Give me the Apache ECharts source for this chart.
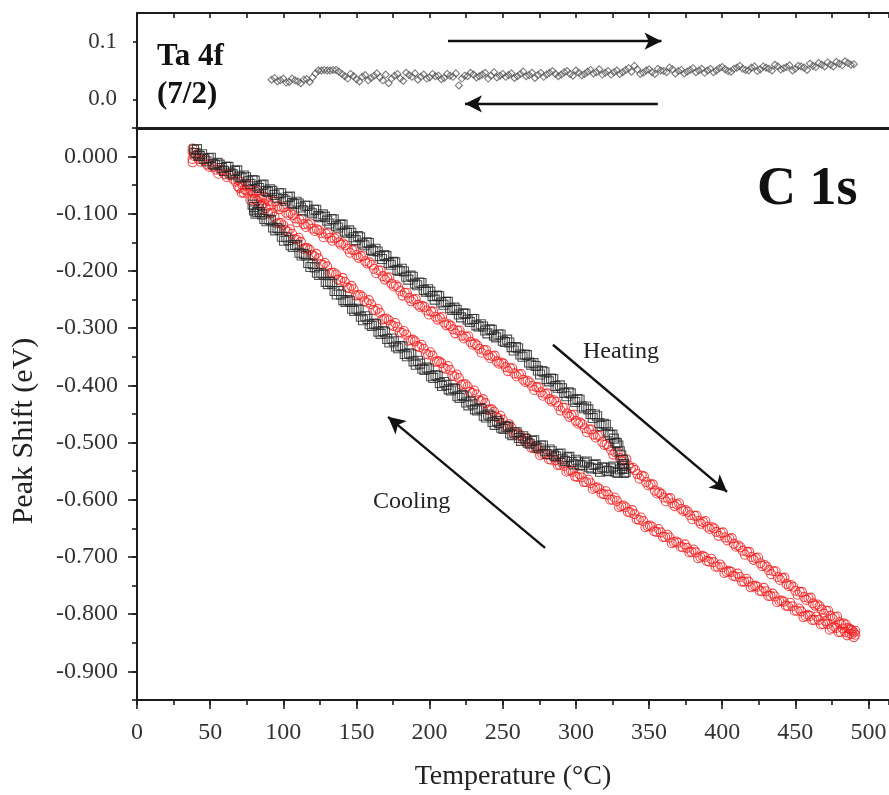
<!DOCTYPE html>
<html>
<head>
<meta charset="utf-8">
<script src="https://cdn.jsdelivr.net/npm/echarts@6/dist/echarts.min.js"></script>
<style>
html, body { margin: 0; padding: 0; background: #fff; }
#chart { width: 889px; height: 795px; }
</style>
</head>
<body>
<div id="chart"></div>
<script>
// ---- Ta 4f (7/2) reference peak, [temperature °C, shift eV] ----
const taShift = [
  [92,0.034],[94,0.037],[96,0.031],[98,0.033],[100,0.036],[102,0.029],[104,0.030],[106,0.036],[108,0.033],[110,0.031],
  [112,0.028],[114,0.034],[116,0.035],[118,0.030],[120,0.038],[122,0.045],[124,0.050],[126,0.050],[128,0.051],[130,0.050],
  [132,0.050],[134,0.051],[136,0.051],[138,0.048],[140,0.044],[142,0.040],[144,0.036],[146,0.044],[148,0.040],[150,0.035],
  [152,0.031],[154,0.039],[156,0.042],[158,0.033],[160,0.037],[162,0.041],[164,0.045],[166,0.038],[168,0.033],[170,0.043],
  [172,0.028],[174,0.036],[176,0.041],[178,0.044],[180,0.036],[182,0.032],[184,0.046],[186,0.042],[188,0.039],[190,0.045],
  [192,0.034],[194,0.039],[196,0.043],[198,0.036],[200,0.038],[202,0.044],[204,0.040],[206,0.041],[208,0.035],[210,0.037],
  [212,0.044],[214,0.041],[216,0.039],[218,0.045],[220,0.024],[222,0.036],[224,0.041],[226,0.040],[228,0.046],[230,0.043],
  [232,0.038],[234,0.040],[236,0.043],[238,0.046],[240,0.036],[242,0.041],[244,0.047],[246,0.038],[248,0.041],[250,0.044],
  [252,0.039],[254,0.042],[256,0.045],[258,0.037],[260,0.040],[262,0.044],[264,0.048],[266,0.040],[268,0.042],[270,0.046],
  [272,0.037],[274,0.042],[276,0.046],[278,0.039],[280,0.043],[282,0.046],[284,0.049],[286,0.044],[288,0.040],[290,0.043],
  [292,0.047],[294,0.049],[296,0.044],[298,0.041],[300,0.050],[302,0.046],[304,0.042],[306,0.044],[308,0.048],[310,0.051],
  [312,0.045],[314,0.047],[316,0.052],[318,0.043],[320,0.046],[322,0.049],[324,0.043],[326,0.047],[328,0.050],[330,0.044],
  [332,0.047],[334,0.051],[336,0.054],[338,0.048],[340,0.058],[342,0.052],[344,0.044],[346,0.046],[348,0.050],[350,0.052],
  [352,0.047],[354,0.044],[356,0.053],[358,0.050],[360,0.049],[362,0.047],[364,0.055],[366,0.052],[368,0.045],[370,0.049],
  [372,0.051],[374,0.045],[376,0.048],[378,0.051],[380,0.054],[382,0.047],[384,0.050],[386,0.053],[388,0.046],[390,0.050],
  [392,0.053],[394,0.047],[396,0.050],[398,0.054],[400,0.056],[402,0.052],[404,0.049],[406,0.048],[408,0.053],[410,0.055],
  [412,0.058],[414,0.053],[416,0.051],[418,0.050],[420,0.055],[422,0.057],[424,0.049],[426,0.052],[428,0.057],[430,0.055],
  [432,0.053],[434,0.050],[436,0.060],[438,0.057],[440,0.052],[442,0.054],[444,0.056],[446,0.059],[448,0.050],[450,0.053],
  [452,0.058],[454,0.057],[456,0.055],[458,0.051],[460,0.062],[462,0.058],[464,0.056],[466,0.063],[468,0.060],[470,0.057],
  [472,0.064],[474,0.060],[476,0.057],[478,0.065],[480,0.062],[482,0.059],[484,0.066],[486,0.063],[488,0.060],[490,0.061]
];

// ---- C 1s, cycle to ~330 °C (black squares) ----
const blackHeating = [
  [39,0.012],[40,0.006],[41,0.013],[42,0.002],[43,0.001],[44.5,0.004],[46,-0.004],[47.5,-0.008],[49,-0.003],[50.5,-0.002],
  [52,-0.013],[53.5,-0.015],[55,-0.011],[56.5,-0.014],[58,-0.020],[59.5,-0.025],[61,-0.018],[62.5,-0.018],[64,-0.028],
  [65.5,-0.031],[67,-0.025],[68.5,-0.024],[70,-0.035],[71.5,-0.037],[73,-0.033],[74.5,-0.036],[76,-0.043],[77.5,-0.048],
  [79,-0.041],[80.5,-0.042],[82,-0.052],[83.5,-0.055],[85,-0.050],[86.5,-0.049],[88,-0.060],[89.5,-0.062],[91,-0.057],
  [92.5,-0.060],[94,-0.067],[95.5,-0.072],[97,-0.064],[98.5,-0.064],[100,-0.074],[101.5,-0.077],[103,-0.071],[104.5,-0.070],
  [106,-0.081],[107.5,-0.083],[109,-0.079],[110.5,-0.082],[112,-0.089],[113.5,-0.094],[115,-0.086],[116.5,-0.086],
  [118,-0.096],[119.5,-0.099],[121,-0.093],[122.5,-0.093],[124,-0.104],[125.5,-0.106],[127,-0.101],[128.5,-0.105],
  [130,-0.112],[131.5,-0.117],[133,-0.109],[134.5,-0.110],[136,-0.121],[137.5,-0.124],[139,-0.119],[140.5,-0.119],
  [142,-0.131],[143.5,-0.133],[145,-0.129],[146.5,-0.133],[148,-0.141],[149.5,-0.146],[151,-0.139],[152.5,-0.141],
  [154,-0.152],[155.5,-0.155],[157,-0.150],[158.5,-0.151],[160,-0.163],[161.5,-0.165],[163,-0.161],[164.5,-0.166],
  [166,-0.174],[167.5,-0.179],[169,-0.172],[170.5,-0.174],[172,-0.186],[173.5,-0.189],[175,-0.184],[176.5,-0.185],
  [178,-0.198],[179.5,-0.200],[181,-0.196],[182.5,-0.201],[184,-0.210],[185.5,-0.215],[187,-0.208],[188.5,-0.210],
  [190,-0.222],[191.5,-0.225],[193,-0.220],[194.5,-0.221],[196,-0.233],[197.5,-0.236],[199,-0.232],[200.5,-0.236],
  [202,-0.244],[203.5,-0.250],[205,-0.243],[206.5,-0.244],[208,-0.255],[209.5,-0.259],[211,-0.254],[212.5,-0.254],
  [214,-0.265],[215.5,-0.268],[217,-0.264],[218.5,-0.268],[220,-0.276],[221.5,-0.281],[223,-0.274],[224.5,-0.275],
  [226,-0.285],[227.5,-0.289],[229,-0.284],[230.5,-0.284],[232,-0.295],[233.5,-0.297],[235,-0.293],[236.5,-0.297],
  [238,-0.304],[239.5,-0.309],[241,-0.302],[242.5,-0.303],[244,-0.313],[245.5,-0.316],[247,-0.311],[248.5,-0.311],
  [250,-0.322],[251.5,-0.324],[253,-0.320],[254.5,-0.325],[256,-0.333],[257.5,-0.339],[259,-0.333],[260.5,-0.335],
  [262,-0.346],[263.5,-0.350],[265,-0.346],[266.5,-0.347],[268,-0.360],[269.5,-0.364],[271,-0.361],[272.5,-0.366],
  [274,-0.374],[275.5,-0.381],[277,-0.375],[278.5,-0.377],[280,-0.389],[281.5,-0.393],[283,-0.388],[284.5,-0.389],
  [286,-0.401],[287.5,-0.404],[289,-0.400],[290.5,-0.405],[292,-0.413],[293.5,-0.419],[295,-0.412],[296.5,-0.414],
  [298,-0.425],[299.5,-0.429],[301,-0.424],[302.5,-0.425],[304,-0.437],[305.5,-0.440],[307,-0.437],[308.5,-0.442],
  [310,-0.450],[311.5,-0.457],[313,-0.451],[314.5,-0.454],[316,-0.466],[317.5,-0.471],[319,-0.467],[320.5,-0.469],
  [322,-0.482],[323.5,-0.487],[325,-0.486],[326,-0.493],[327,-0.500],[328,-0.501],[329,-0.505],[330,-0.515],
  [331,-0.522],[332,-0.530],[333,-0.538],[333,-0.546],[332,-0.541]
];
const blackCooling = [
  [334,-0.551],[333,-0.553],[331.5,-0.545],[330,-0.547],[328.5,-0.553],[327,-0.551],[325.5,-0.542],[324,-0.545],
  [322.5,-0.550],[321,-0.549],[319.5,-0.544],[318,-0.543],[316.5,-0.551],[315,-0.546],[313.5,-0.538],[312,-0.539],
  [310.5,-0.545],[309,-0.543],[307.5,-0.533],[306,-0.535],[304.5,-0.540],[303,-0.539],[301.5,-0.533],[300,-0.530],
  [298.5,-0.538],[297,-0.534],[295.5,-0.525],[294,-0.526],[292.5,-0.532],[291,-0.529],[289.5,-0.519],[288,-0.520],
  [286.5,-0.524],[285,-0.522],[283.5,-0.515],[282,-0.512],[280.5,-0.520],[279,-0.515],[277.5,-0.505],[276,-0.505],
  [274.5,-0.510],[273,-0.507],[271.5,-0.496],[270,-0.497],[268.5,-0.502],[267,-0.500],[265.5,-0.493],[264,-0.489],
  [262.5,-0.497],[261,-0.492],[259.5,-0.482],[258,-0.482],[256.5,-0.487],[255,-0.484],[253.5,-0.472],[252,-0.472],
  [250.5,-0.476],[249,-0.474],[247.5,-0.466],[246,-0.462],[244.5,-0.469],[243,-0.464],[241.5,-0.453],[240,-0.451],
  [238.5,-0.456],[237,-0.453],[235.5,-0.441],[234,-0.440],[232.5,-0.444],[231,-0.442],[229.5,-0.433],[228,-0.428],
  [226.5,-0.435],[225,-0.430],[223.5,-0.419],[222,-0.417],[220.5,-0.422],[219,-0.419],[217.5,-0.406],[216,-0.405],
  [214.5,-0.409],[213,-0.407],[211.5,-0.399],[210,-0.394],[208.5,-0.401],[207,-0.396],[205.5,-0.384],[204,-0.382],
  [202.5,-0.387],[201,-0.384],[199.5,-0.371],[198,-0.369],[196.5,-0.373],[195,-0.371],[193.5,-0.362],[192,-0.357],
  [190.5,-0.364],[189,-0.358],[187.5,-0.346],[186,-0.344],[184.5,-0.349],[183,-0.345],[181.5,-0.332],[180,-0.331],
  [178.5,-0.335],[177,-0.332],[175.5,-0.323],[174,-0.318],[172.5,-0.325],[171,-0.319],[169.5,-0.307],[168,-0.305],
  [166.5,-0.310],[165,-0.306],[163.5,-0.293],[162,-0.292],[160.5,-0.296],[159,-0.293],[157.5,-0.284],[156,-0.279],
  [154.5,-0.286],[153,-0.280],[151.5,-0.268],[150,-0.266],[148.5,-0.270],[147,-0.266],[145.5,-0.253],[144,-0.251],
  [142.5,-0.254],[141,-0.251],[139.5,-0.241],[138,-0.235],[136.5,-0.241],[135,-0.235],[133.5,-0.222],[132,-0.219],
  [130.5,-0.223],[129,-0.219],[127.5,-0.206],[126,-0.204],[124.5,-0.207],[123,-0.203],[121.5,-0.194],[120,-0.188],
  [118.5,-0.193],[117,-0.186],[115.5,-0.173],[114,-0.170],[112.5,-0.173],[111,-0.168],[109.5,-0.155],[108,-0.154],
  [106.5,-0.158],[105,-0.155],[103.5,-0.146],[102,-0.141],[100.5,-0.147],[99,-0.140],[97.5,-0.128],[96,-0.125],
  [94.5,-0.129],[93,-0.124],[91.5,-0.111],[90,-0.110],[88.5,-0.113],[87,-0.109],[85.5,-0.101],[84,-0.097],
  [82,-0.097],[83,-0.092],[80,-0.088],[81,-0.100],[79,-0.084],[80,-0.094]
];

// ---- C 1s, cycle to ~490 °C (red circles) ----
const redHeating = [
  [38,0.014],[38,0.008],[38,-0.004],[38,-0.010],[39,0.001],[40.5,0.003],[42,-0.004],[43.5,-0.009],[45,-0.006],[46.5,-0.004],
  [48,-0.014],[49.5,-0.018],[51,-0.016],[52.5,-0.018],[54,-0.023],[55.5,-0.030],[57,-0.024],[58.5,-0.023],[60,-0.031],
  [61.5,-0.036],[63,-0.032],[64.5,-0.030],[66,-0.040],[67.5,-0.044],[69,-0.041],[70.5,-0.044],[72,-0.050],[73.5,-0.057],
  [75,-0.051],[76.5,-0.050],[78,-0.059],[79.5,-0.064],[81,-0.061],[82.5,-0.059],[84,-0.069],[85.5,-0.073],[87,-0.070],
  [88.5,-0.072],[90,-0.078],[91.5,-0.085],[93,-0.079],[94.5,-0.078],[96,-0.087],[97.5,-0.092],[99,-0.089],[100.5,-0.088],
  [102,-0.098],[103.5,-0.102],[105,-0.099],[106.5,-0.102],[108,-0.108],[109.5,-0.115],[111,-0.110],[112.5,-0.109],
  [114,-0.118],[115.5,-0.123],[117,-0.119],[118.5,-0.117],[120,-0.126],[121.5,-0.130],[123,-0.127],[124.5,-0.129],
  [126,-0.134],[127.5,-0.141],[129,-0.135],[130.5,-0.134],[132,-0.142],[133.5,-0.147],[135,-0.143],[136.5,-0.141],
  [138,-0.150],[139.5,-0.154],[141,-0.152],[142.5,-0.155],[144,-0.161],[145.5,-0.168],[147,-0.163],[148.5,-0.163],
  [150,-0.172],[151.5,-0.177],[153,-0.174],[154.5,-0.173],[156,-0.183],[157.5,-0.187],[159,-0.185],[160.5,-0.189],
  [162,-0.196],[163.5,-0.204],[165,-0.199],[166.5,-0.199],[168,-0.209],[169.5,-0.215],[171,-0.212],[172.5,-0.211],
  [174,-0.222],[175.5,-0.227],[177,-0.225],[178.5,-0.228],[180,-0.235],[181.5,-0.243],[183,-0.238],[184.5,-0.238],
  [186,-0.247],[187.5,-0.253],[189,-0.250],[190.5,-0.249],[192,-0.259],[193.5,-0.263],[195,-0.261],[196.5,-0.263],
  [198,-0.269],[199.5,-0.276],[201,-0.271],[202.5,-0.271],[204,-0.280],[205.5,-0.285],[207,-0.282],[208.5,-0.280],
  [210,-0.290],[211.5,-0.295],[213,-0.293],[214.5,-0.296],[216,-0.302],[217.5,-0.309],[219,-0.304],[220.5,-0.304],
  [222,-0.313],[223.5,-0.318],[225,-0.315],[226.5,-0.314],[228,-0.324],[229.5,-0.329],[231,-0.327],[232.5,-0.330],
  [234,-0.336],[235.5,-0.343],[237,-0.338],[238.5,-0.338],[240,-0.347],[241.5,-0.352],[243,-0.349],[244.5,-0.348],
  [246,-0.358],[247.5,-0.362],[249,-0.360],[250.5,-0.362],[252,-0.368],[253.5,-0.375],[255,-0.370],[256.5,-0.370],
  [258,-0.379],[259.5,-0.384],[261,-0.381],[262.5,-0.380],[264,-0.390],[265.5,-0.394],[267,-0.392],[268.5,-0.395],
  [270,-0.401],[271.5,-0.408],[273,-0.403],[274.5,-0.403],[276,-0.412],[277.5,-0.418],[279,-0.415],[280.5,-0.414],
  [282,-0.424],[283.5,-0.428],[285,-0.426],[286.5,-0.429],[288,-0.436],[289.5,-0.444],[291,-0.439],[292.5,-0.439],
  [294,-0.449],[295.5,-0.455],[297,-0.452],[298.5,-0.451],[300,-0.462],[301.5,-0.467],[303,-0.465],[304.5,-0.468],
  [306,-0.475],[307.5,-0.482],[309,-0.477],[310.5,-0.477],[312,-0.486],[313.5,-0.491],[315,-0.488],[316.5,-0.488],
  [318,-0.499],[319.5,-0.504],[321,-0.503],[322.5,-0.506],[324,-0.513],[325.5,-0.521],[327,-0.517],[328.5,-0.517],
  [330,-0.527],[331.5,-0.533],[333,-0.530],[334.5,-0.529],[336,-0.540],[337.5,-0.545],[339,-0.544],[340.5,-0.548],
  [342,-0.555],[343.5,-0.563],[345,-0.558],[346.5,-0.559],[348,-0.569],[349.5,-0.575],[351,-0.573],[352.5,-0.573],
  [354,-0.584],[355.5,-0.589],[357,-0.587],[358.5,-0.590],[360,-0.596],[361.5,-0.603],[363,-0.598],[364.5,-0.597],
  [366,-0.606],[367.5,-0.611],[369,-0.608],[370.5,-0.606],[372,-0.616],[373.5,-0.620],[375,-0.618],[376.5,-0.621],
  [378,-0.627],[379.5,-0.634],[381,-0.628],[382.5,-0.628],[384,-0.637],[385.5,-0.642],[387,-0.639],[388.5,-0.637],
  [390,-0.647],[391.5,-0.651],[393,-0.648],[394.5,-0.650],[396,-0.656],[397.5,-0.663],[399,-0.658],[400.5,-0.657],
  [402,-0.666],[403.5,-0.671],[405,-0.668],[406.5,-0.667],[408,-0.677],[409.5,-0.682],[411,-0.680],[412.5,-0.683],
  [414,-0.689],[415.5,-0.696],[417,-0.691],[418.5,-0.691],[420,-0.700],[421.5,-0.705],[423,-0.702],[424.5,-0.701],
  [426,-0.711],[427.5,-0.716],[429,-0.714],[430.5,-0.717],[432,-0.723],[433.5,-0.730],[435,-0.725],[436.5,-0.725],
  [438,-0.735],[439.5,-0.740],[441,-0.737],[442.5,-0.736],[444,-0.747],[445.5,-0.751],[447,-0.749],[448.5,-0.752],
  [450,-0.759],[451.5,-0.766],[453,-0.761],[454.5,-0.761],[456,-0.770],[457.5,-0.775],[459,-0.772],[460.5,-0.771],
  [462,-0.781],[463.5,-0.785],[465,-0.783],[466.5,-0.786],[468,-0.792],[469.5,-0.799],[471,-0.794],[472.5,-0.794],
  [474,-0.803],[475.5,-0.808],[477,-0.805],[478.5,-0.804],[480,-0.814],[481.5,-0.818],[483,-0.816],[484.5,-0.818],
  [486,-0.824],[487,-0.826],[488,-0.827],[489,-0.829],[490,-0.832],[491,-0.836],[491,-0.829]
];
const redCooling = [
  [490,-0.840],[488.5,-0.835],[487,-0.834],[485.5,-0.837],[484,-0.831],[482.5,-0.825],[481,-0.831],[479.5,-0.831],
  [478,-0.824],[476.5,-0.822],[475,-0.824],[473.5,-0.827],[472,-0.817],[470.5,-0.812],[469,-0.817],[467.5,-0.818],
  [466,-0.810],[464.5,-0.804],[463,-0.810],[461.5,-0.810],[460,-0.803],[458.5,-0.801],[457,-0.803],[455.5,-0.805],
  [454,-0.795],[452.5,-0.790],[451,-0.794],[449.5,-0.794],[448,-0.786],[446.5,-0.780],[445,-0.786],[443.5,-0.785],
  [442,-0.778],[440.5,-0.776],[439,-0.777],[437.5,-0.779],[436,-0.769],[434.5,-0.764],[433,-0.768],[431.5,-0.768],
  [430,-0.760],[428.5,-0.754],[427,-0.760],[425.5,-0.759],[424,-0.752],[422.5,-0.750],[421,-0.751],[419.5,-0.753],
  [418,-0.743],[416.5,-0.738],[415,-0.743],[413.5,-0.743],[412,-0.735],[410.5,-0.729],[409,-0.734],[407.5,-0.733],
  [406,-0.726],[404.5,-0.724],[403,-0.726],[401.5,-0.728],[400,-0.718],[398.5,-0.713],[397,-0.717],[395.5,-0.717],
  [394,-0.709],[392.5,-0.703],[391,-0.708],[389.5,-0.707],[388,-0.700],[386.5,-0.698],[385,-0.700],[383.5,-0.702],
  [382,-0.692],[380.5,-0.687],[379,-0.691],[377.5,-0.692],[376,-0.684],[374.5,-0.678],[373,-0.683],[371.5,-0.682],
  [370,-0.675],[368.5,-0.673],[367,-0.674],[365.5,-0.676],[364,-0.666],[362.5,-0.661],[361,-0.665],[359.5,-0.665],
  [358,-0.657],[356.5,-0.651],[355,-0.656],[353.5,-0.655],[352,-0.647],[350.5,-0.645],[349,-0.646],[347.5,-0.648],
  [346,-0.637],[344.5,-0.631],[343,-0.635],[341.5,-0.634],[340,-0.625],[338.5,-0.618],[337,-0.622],[335.5,-0.621],
  [334,-0.613],[332.5,-0.610],[331,-0.611],[329.5,-0.613],[328,-0.602],[326.5,-0.596],[325,-0.600],[323.5,-0.600],
  [322,-0.591],[320.5,-0.585],[319,-0.590],[317.5,-0.589],[316,-0.581],[314.5,-0.578],[313,-0.579],[311.5,-0.581],
  [310,-0.571],[308.5,-0.565],[307,-0.569],[305.5,-0.569],[304,-0.561],[302.5,-0.555],[301,-0.560],[299.5,-0.559],
  [298,-0.551],[296.5,-0.548],[295,-0.549],[293.5,-0.551],[292,-0.541],[290.5,-0.535],[289,-0.539],[287.5,-0.539],
  [286,-0.531],[284.5,-0.525],[283,-0.530],[281.5,-0.529],[280,-0.521],[278.5,-0.519],[277,-0.520],[275.5,-0.522],
  [274,-0.511],[272.5,-0.506],[271,-0.510],[269.5,-0.509],[268,-0.500],[266.5,-0.493],[265,-0.497],[263.5,-0.495],
  [262,-0.487],[260.5,-0.484],[259,-0.484],[257.5,-0.485],[256,-0.474],[254.5,-0.468],[253,-0.471],[251.5,-0.470],
  [250,-0.460],[248.5,-0.453],[247,-0.457],[245.5,-0.455],[244,-0.446],[242.5,-0.442],[241,-0.442],[239.5,-0.443],
  [238,-0.431],[236.5,-0.424],[235,-0.427],[233.5,-0.426],[232,-0.416],[230.5,-0.409],[229,-0.413],[227.5,-0.411],
  [226,-0.402],[224.5,-0.398],[223,-0.398],[221.5,-0.399],[220,-0.387],[218.5,-0.381],[217,-0.384],[215.5,-0.383],
  [214,-0.373],[212.5,-0.366],[211,-0.371],[209.5,-0.369],[208,-0.361],[206.5,-0.358],[205,-0.358],[203.5,-0.359],
  [202,-0.348],[200.5,-0.342],[199,-0.346],[197.5,-0.345],[196,-0.336],[194.5,-0.329],[193,-0.333],[191.5,-0.331],
  [190,-0.323],[188.5,-0.320],[187,-0.321],[185.5,-0.322],[184,-0.311],[182.5,-0.305],[181,-0.308],[179.5,-0.307],
  [178,-0.298],[176.5,-0.291],[175,-0.296],[173.5,-0.294],[172,-0.286],[170.5,-0.283],[169,-0.284],[167.5,-0.285],
  [166,-0.273],[164.5,-0.266],[163,-0.269],[161.5,-0.268],[160,-0.258],[158.5,-0.251],[157,-0.255],[155.5,-0.253],
  [154,-0.245],[152.5,-0.242],[151,-0.242],[149.5,-0.243],[148,-0.232],[146.5,-0.226],[145,-0.230],[143.5,-0.229],
  [142,-0.219],[140.5,-0.212],[139,-0.217],[137.5,-0.215],[136,-0.206],[134.5,-0.203],[133,-0.203],[131.5,-0.204],
  [130,-0.192],[128.5,-0.186],[127,-0.189],[125.5,-0.188],[124,-0.178],[122.5,-0.170],[121,-0.174],[119.5,-0.172],
  [118,-0.163],[116.5,-0.160],[115,-0.160],[113.5,-0.161],[112,-0.149],[110.5,-0.142],[109,-0.145],[107.5,-0.144],
  [106,-0.135],[104.5,-0.127],[103,-0.131],[101.5,-0.129],[100,-0.120],[98.5,-0.116],[97,-0.116],[95.5,-0.117],
  [94,-0.105],[92.5,-0.098],[91,-0.100],[89.5,-0.099],[88,-0.090],[86.5,-0.082],[85,-0.086],[83.5,-0.085],
  [82,-0.077],[80.5,-0.074],[79,-0.074],[77.5,-0.076],[76,-0.065],[74.5,-0.059],[73,-0.063],[71.5,-0.063],
  [70,-0.055],[69,-0.052]
];

// ---- axis tick labels ----
const taTicks = [0, 0.1];
const shiftTicks = [0, -0.1, -0.2, -0.3, -0.4, -0.5, -0.6, -0.7, -0.8, -0.9];

const SERIF = '"Liberation Serif", "Times New Roman", serif';
const AXIS = '#1c1c1c';
const LABEL = '#333';
const T_MIN = 0, T_MAX = 514;

const line = (w) => ({ show: true, onZero: false, lineStyle: { color: AXIS, width: w } });
const noLine = { show: false, onZero: false };
const tick = (len, inside) => ({ show: true, inside: !!inside, length: len, lineStyle: { color: AXIS, width: 1.6 } });
const labelFont = (size) => ({ fontFamily: SERIF, fontSize: size, color: LABEL });

const arrowLine = {
  silent: true,
  animation: false,
  symbol: ['none', 'arrow'],
  symbolSize: [13, 17],
  label: { show: false },
  emphasis: { disabled: true },
  lineStyle: { color: '#111', width: 2.4, type: 'solid' }
};

const chart = echarts.init(document.getElementById('chart'));

chart.setOption({
  animation: false,
  backgroundColor: '#fff',
  grid: [
    { left: 137, top: 13, width: 752, height: 115, containLabel: false, outerBoundsMode: 'none' },
    { left: 137, top: 128, width: 752, height: 572, containLabel: false, outerBoundsMode: 'none' }
  ],
  xAxis: [
    { gridIndex: 0, type: 'value', position: 'top', min: T_MIN, max: T_MAX, interval: 25,
      axisLine: line(2), axisTick: tick(5, true), axisLabel: { show: false }, splitLine: { show: false } },
    { gridIndex: 0, type: 'value', position: 'bottom', min: T_MIN, max: T_MAX,
      axisLine: line(3), axisTick: { show: false }, axisLabel: { show: false }, splitLine: { show: false } },
    { gridIndex: 1, type: 'value', position: 'bottom', min: T_MIN, max: T_MAX, interval: 25,
      axisLine: line(2), axisTick: tick(5), axisLabel: { show: false }, splitLine: { show: false } },
    { gridIndex: 1, type: 'value', position: 'bottom', min: T_MIN, max: T_MAX, interval: 50,
      axisLine: noLine, axisTick: tick(9), splitLine: { show: false },
      axisLabel: Object.assign({ margin: 21, showMaxLabel: false,
        formatter: (v) => (v % 50 === 0 ? String(v) : '') }, labelFont(24)),
      name: 'Temperature (°C)', nameLocation: 'middle', nameGap: 63,
      nameTextStyle: { fontFamily: SERIF, fontSize: 28, color: '#222' } }
  ],
  yAxis: [
    { gridIndex: 0, type: 'value', position: 'left', min: -0.05, max: 0.15,
      axisLine: line(2), splitLine: { show: false },
      axisTick: Object.assign(tick(4), { customValues: taTicks }),
      axisLabel: Object.assign({ customValues: taTicks, margin: 20,
        formatter: (v) => v.toFixed(1) }, labelFont(23)) },
    { gridIndex: 1, type: 'value', position: 'left', min: -0.95, max: 0.05, interval: 0.05,
      axisLine: line(2), axisTick: tick(5), axisLabel: { show: false }, splitLine: { show: false } },
    { gridIndex: 1, type: 'value', position: 'left', min: -0.95, max: 0.05,
      axisLine: noLine, splitLine: { show: false },
      axisTick: Object.assign(tick(9), { customValues: shiftTicks }),
      axisLabel: Object.assign({ customValues: shiftTicks, margin: 19,
        formatter: (v) => v.toFixed(3) }, labelFont(24)),
      name: 'Peak Shift (eV)', nameLocation: 'middle', nameRotate: 90, nameGap: 98,
      nameTextStyle: { fontFamily: SERIF, fontSize: 30, color: '#222', padding: [0, 34, 0, 0] } }
  ],
  series: [
    { name: 'Ta 4f', type: 'scatter', xAxisIndex: 0, yAxisIndex: 0, data: taShift,
      symbol: 'diamond', symbolSize: 7, silent: true,
      itemStyle: { color: 'rgba(255,255,255,0)', borderColor: '#5a5a5a', borderWidth: 1.1 },
      markLine: Object.assign({}, arrowLine, { data: [
        [{ coord: [212.6, 0.101] }, { coord: [358.5, 0.101] }],
        [{ coord: [356.0, -0.008] }, { coord: [224.2, -0.008] }]
      ] }) },
    { name: 'red heating', type: 'scatter', xAxisIndex: 2, yAxisIndex: 1, data: redHeating,
      symbol: 'circle', symbolSize: 9, silent: true,
      itemStyle: { color: 'rgba(255,255,255,0)', borderColor: '#f01c1c', borderWidth: 1.1 },
      markLine: Object.assign({}, arrowLine, { data: [
        [{ coord: [284.3, -0.329] }, { coord: [403.3, -0.586] }],
        [{ coord: [278.9, -0.684] }, { coord: [171.6, -0.455] }]
      ] }) },
    { name: 'red cooling', type: 'scatter', xAxisIndex: 2, yAxisIndex: 1, data: redCooling,
      symbol: 'circle', symbolSize: 9, silent: true,
      itemStyle: { color: 'rgba(255,255,255,0)', borderColor: '#f01c1c', borderWidth: 1.1 } },
    { name: 'black heating', type: 'scatter', xAxisIndex: 2, yAxisIndex: 1, data: blackHeating,
      symbol: 'rect', symbolSize: 9, silent: true,
      itemStyle: { color: 'rgba(255,255,255,0)', borderColor: '#262626', borderWidth: 1.1 } },
    { name: 'black cooling', type: 'scatter', xAxisIndex: 2, yAxisIndex: 1, data: blackCooling,
      symbol: 'rect', symbolSize: 9, silent: true,
      itemStyle: { color: 'rgba(255,255,255,0)', borderColor: '#262626', borderWidth: 1.1 } }
  ],
  graphic: [
    { type: 'text', x: 157, y: 57, silent: true,
      style: { text: 'Ta 4f', font: 'bold 31px ' + SERIF, fill: '#111', align: 'left', verticalAlign: 'middle' } },
    { type: 'text', x: 157, y: 95, silent: true,
      style: { text: '(7/2)', font: 'bold 31px ' + SERIF, fill: '#111', align: 'left', verticalAlign: 'middle' } },
    { type: 'text', x: 757, y: 190, silent: true,
      style: { text: 'C 1s', font: 'bold 54px ' + SERIF, fill: '#111', align: 'left', verticalAlign: 'middle' } },
    { type: 'text', x: 583, y: 352, silent: true,
      style: { text: 'Heating', font: '24px ' + SERIF, fill: '#222', align: 'left', verticalAlign: 'middle' } },
    { type: 'text', x: 373, y: 502, silent: true,
      style: { text: 'Cooling', font: '24px ' + SERIF, fill: '#222', align: 'left', verticalAlign: 'middle' } }
  ]
});
</script>
</body>
</html>
